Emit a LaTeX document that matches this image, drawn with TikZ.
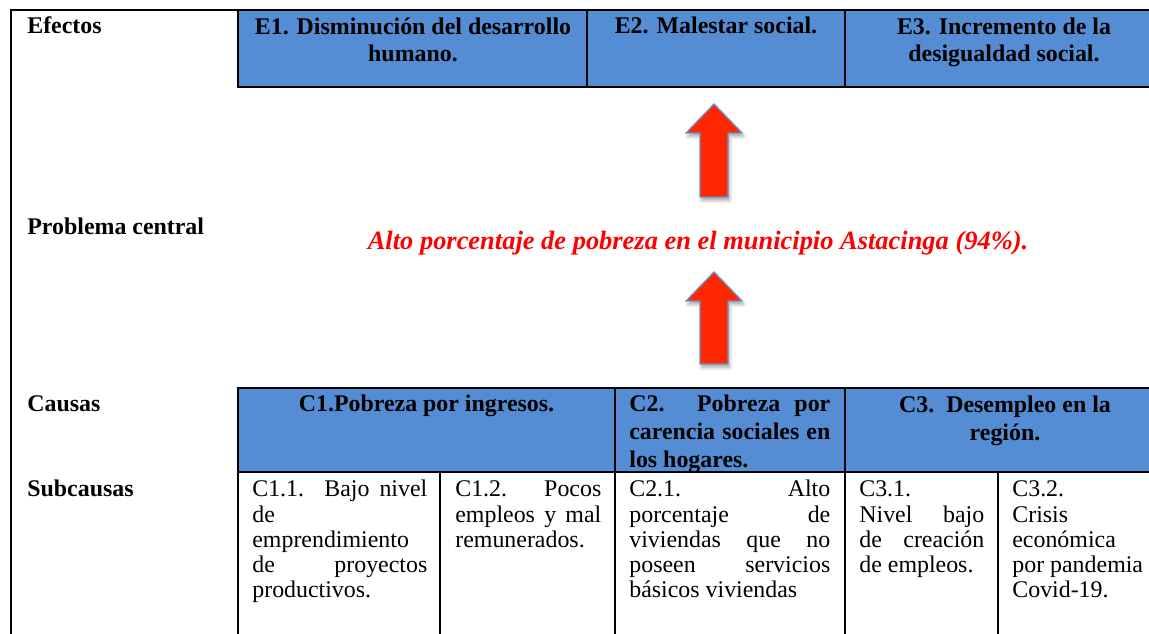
\documentclass[tikz,border=0pt]{standalone}
\usepackage{fontspec}
\setmainfont{Liberation Serif}
\usetikzlibrary{shadows,shadows.blur}
\definecolor{cellblue}{RGB}{84,141,212}
\definecolor{arrowred}{RGB}{255,38,0}
\definecolor{arrowedge}{RGB}{100,145,205}
\newcommand{\jline}[1]{\makebox[\linewidth][s]{#1}}
\newcommand{\fsz}{\fontsize{13.6pt}{14.3pt}\selectfont}
\newcommand{\fhd}{\fontsize{13.6pt}{15.8pt}\selectfont\bfseries}
\tikzset{
  rule/.style={line width=1.3pt, black},
  lbl/.style={anchor=base west, inner sep=0pt, font=\fsz\bfseries},
  hdr/.style={anchor=base, inner sep=0pt, font=\fhd, align=center},
  sub/.style={anchor=base west, inner sep=0pt, font=\fsz},
  bigarrow/.style={fill=arrowred, draw=arrowedge, line width=0.7pt, line join=miter,
    blur shadow={shadow xshift=1pt, shadow yshift=-2pt, shadow blur steps=6, shadow opacity=35}},
}
\begin{document}
\begin{tikzpicture}[x=0.02cm, y=-0.02cm]
\useasboundingbox (0,0) rectangle (1149,634);
\clip (0,0) rectangle (1149,634);
% blue fills
\fill[cellblue] (238,10) rectangle (1165,87);
\fill[cellblue] (238,388) rectangle (1165,472);
% rules
\draw[rule] (11,640) -- (11,10) -- (1165,10);
\draw[rule] (238,10) -- (238,87) -- (1165,87);
\draw[rule] (587,10) -- (587,87);
\draw[rule] (845,10) -- (845,87);
\draw[rule] (238,640) -- (238,388) -- (1165,388);
\draw[rule] (238,472) -- (1165,472);
\draw[rule] (615,388) -- (615,640);
\draw[rule] (845,388) -- (845,640);
\draw[rule] (440,472) -- (440,640);
\draw[rule] (998,472) -- (998,640);
% arrows
\draw[bigarrow] (700,197) -- (700,133) -- (686,133) -- (714,104) -- (742,133) -- (728,133) -- (728,197) -- cycle;
\draw[bigarrow] (700,364) -- (700,301) -- (686,301) -- (714,272) -- (742,301) -- (728,301) -- (728,364) -- cycle;
% left labels
\node[lbl] (lefectos) at (27,34) {Efectos};
\node[lbl] (lproblema) at (27,235) {Problema central};
\node[lbl] (lcausas) at (27,412) {Causas};
\node[lbl] (lsub) at (27,497) {Subcausas};
% effects (anchored at the baseline of the last line)
\node[hdr] (e1) at (413,62) {E1. Disminución del desarrollo\\humano.};
\node[hdr] (e2) at (716,34) {E2. Malestar social.};
\node[hdr] (e3) at (1004,62) {E3. Incremento de la\\desigualdad social.};
% central problem
\node[anchor=base, inner sep=0pt, text=red, font=\fontsize{15.05pt}{18pt}\selectfont\bfseries\itshape] (prob) at (698,250) {Alto porcentaje de pobreza en el municipio Astacinga (94\%).};
% causes
\node[hdr] (c1) at (426.5,412) {C1.Pobreza por ingresos.};
\node[anchor=base west, inner sep=0pt] (c2) at (629,412) {\parbox[t]{4.02cm}{\fhd\jline{C2. Pobreza por}\\\jline{carencia sociales en}\\los hogares.}};
\node[hdr] (c3) at (1005,440) {C3.\ \ Desempleo en la\\región.};
% subcauses
\node[sub] (c11) at (252,497) {\parbox[t]{3.5cm}{\fsz\jline{C1.1. Bajo nivel}\\de\\emprendimiento\\\jline{de proyectos}\\productivos.}};
\node[sub] (c12) at (455,497) {\parbox[t]{2.92cm}{\fsz\jline{C1.2. Pocos}\\\jline{empleos y mal}\\remunerados.}};
\node[sub] (c21) at (629,497) {\parbox[t]{4.02cm}{\fsz\jline{C2.1. Alto}\\\jline{porcentaje de}\\\jline{viviendas que no}\\\jline{poseen servicios}\\básicos viviendas}};
\node[sub] (c31) at (859,497) {\parbox[t]{2.5cm}{\fsz C3.1.\\\jline{Nivel bajo}\\\jline{de creación}\\de empleos.}};
\node[sub] (c32) at (1012,497) {\parbox[t]{3.2cm}{\fsz C3.2.\\Crisis\\económica\\por pandemia\\Covid-19.}};
\end{tikzpicture}
\end{document}
